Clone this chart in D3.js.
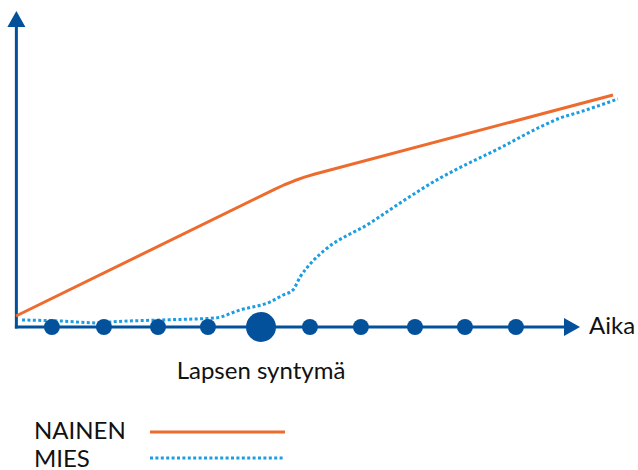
<!DOCTYPE html>
<html><head><meta charset="utf-8">
<script src="https://cdn.jsdelivr.net/npm/d3@7"></script>
<style>body{margin:0;background:#fff}svg{display:block}text{font-family:Lato,sans-serif;fill:#111}</style>
</head><body><svg id="c" width="638" height="470"></svg>
<script>
// time relative to child's birth (birth = 0)
const dotTimes = [-4.06,-3.05,-2.0,-1.03,0,0.95,1.94,2.99,3.96,4.95];
const birthTime = 0;
const nainenT = [-4.757, 0.272, 0.455, 0.646, 0.843, 1.049, 6.835];
const nainenV = [3.67, 45.97, 47.42, 48.74, 49.94, 51.0, 77.33];
const miesT = [-4.64,-3.90,-3.13,-2.93,-1.96,-0.89,-0.41,0.17,0.43,0.62,0.76,0.99,1.24,2.12,2.70,3.48,3.77,4.64,5.42,5.81,6.19,6.93];
const miesV = [2.33,2.0,1.33,1.67,2.33,3.0,5.67,8.33,10.67,12.33,16.67,21.67,25.67,34.67,41.33,49.67,52.33,59.67,66.67,69.67,71.67,76.0];
const labels = {x:"Aika", birth:"Lapsen syntymä", nainen:"NAINEN", mies:"MIES"};

const svg = d3.select("#c");
const blue = "#03519b", orange = "#ee6b2e", light = "#1b9de2";
const x = d3.scaleLinear().domain([0,1]).range([261,312.5]);
const y = d3.scaleLinear().domain([0,100]).range([327,27]);
const x0 = x(-4.75), yTop = 11, xEnd = 580;

// axes
svg.append("line").attr("x1",x0).attr("x2",x0).attr("y1",y(0)+1.5).attr("y2",yTop+10).attr("stroke",blue).attr("stroke-width",3);
svg.append("path").attr("d",`M${x0},${yTop}L${x0-9},${yTop+16}L${x0+9},${yTop+16}Z`).attr("fill",blue);
svg.append("line").attr("x1",x0-1.5).attr("x2",xEnd-10).attr("y1",y(0)).attr("y2",y(0)).attr("stroke",blue).attr("stroke-width",3);
svg.append("path").attr("d",`M${xEnd},${y(0)}L${xEnd-16},${y(0)-9}L${xEnd-16},${y(0)+9}Z`).attr("fill",blue);

// lines
const lineLin = d3.line().x(d=>x(d[0])).y(d=>y(d[1]));
const line = d3.line().x(d=>x(d[0])).y(d=>y(d[1])).curve(d3.curveMonotoneX);
svg.append("path").datum(nainenT.map((t,i)=>[t,nainenV[i]])).attr("d",lineLin)
  .attr("fill","none").attr("stroke",orange).attr("stroke-width",3).attr("stroke-linejoin","round");
svg.append("path").datum(miesT.map((t,i)=>[t,miesV[i]])).attr("d",line)
  .attr("fill","none").attr("stroke",light).attr("stroke-width",3).attr("stroke-dasharray","3 2.4");

// dots
svg.selectAll("circle.d").data(dotTimes).join("circle")
  .attr("cx",d=>x(d)).attr("cy",y(0)).attr("r",d=>d===birthTime?15:8).attr("fill",blue);

// labels
svg.append("text").attr("x",589).attr("y",334).attr("font-size",24).text(labels.x);
svg.append("text").attr("x",x(birthTime)).attr("y",379).attr("text-anchor","middle").attr("font-size",24).text(labels.birth);

// legend
svg.append("text").attr("x",34).attr("y",439).attr("font-size",24).text(labels.nainen);
svg.append("text").attr("x",34).attr("y",467).attr("font-size",24).text(labels.mies);
svg.append("line").attr("x1",150).attr("x2",285).attr("y1",432).attr("y2",432).attr("stroke",orange).attr("stroke-width",3);
svg.append("line").attr("x1",150).attr("x2",284).attr("y1",458).attr("y2",458).attr("stroke",light).attr("stroke-width",3).attr("stroke-dasharray","3 2.4");
</script></body></html>
